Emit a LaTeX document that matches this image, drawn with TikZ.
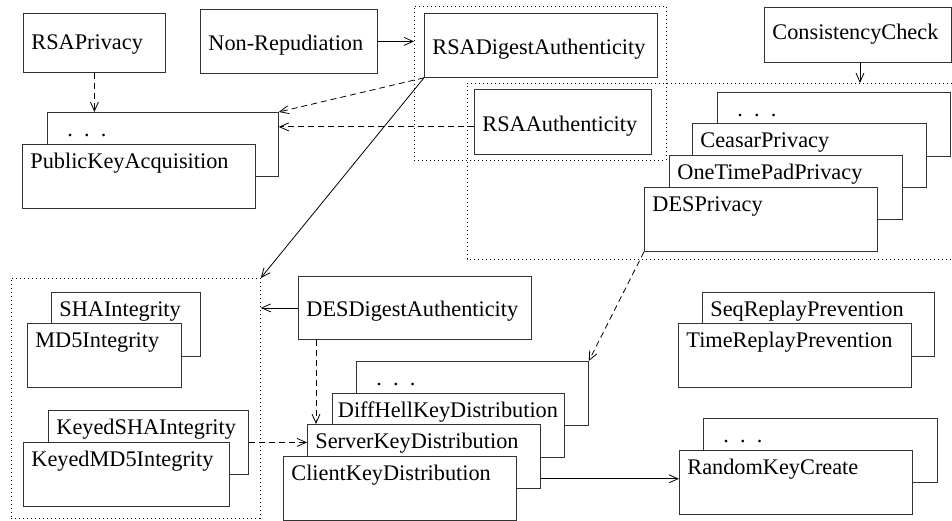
\documentclass[tikz,border=0pt]{standalone}
\usepackage{fontspec}
\setmainfont{Liberation Serif}
\usetikzlibrary{arrows.meta}
\hyphenpenalty=10000
\exhyphenpenalty=10000

\begin{document}
\begin{tikzpicture}
  [x=1pt,y=-1pt,line width=0.8pt,
   every node/.style={draw=black!80,fill=white,anchor=north west,inner xsep=8pt,
     inner ysep=0pt,align=left,text depth=23pt,font=\fontsize{22.3}{26}\selectfont},
   stk/.style={text height=24pt,text depth=40pt},
   grp/.style={fill=none,draw=black,dash pattern=on 1pt off 3pt},
   arr/.style={-{Straight Barb[length=9pt,width=8pt]}},
   dsh/.style={arr,dash pattern=on 6pt off 4pt}]

  \useasboundingbox (0,0) rectangle (952,521);

  % dotted groups
  \node[grp,minimum width=252pt,minimum height=154pt] (rsagrp) at (414,6) {};
  \node[grp,minimum width=249pt,minimum height=240pt] (intgrp) at (11,278) {};
  \draw[grp] (952,83) -| (467,259) -- (952,259);
  \coordinate (privtop) at (860,83);

  % single boxes
  \node[text width=126pt,text height=36pt] (rsapriv) at (23,13) {RSAPrivacy};
  \node[text width=161pt,text height=41pt] (nonrep) at (200,9) {Non-Repudiation};
  \node[text width=217pt,text height=41pt] (rsad) at (424,13) {RSADigestAuthenticity};
  \node[text width=171pt,text height=32pt] (cons) at (764,7) {ConsistencyCheck};
  \node[text width=161pt,text height=42pt] (rsaa) at (474,89) {RSAAuthenticity};
  \node[text width=217pt,text height=40pt] (desd) at (298,276) {DESDigestAuthenticity};

  % stacked boxes
  \node[stk,text width=215pt] (pkdots) at (47,112) {\hspace*{12pt}. . .};
  \node[stk,text width=217pt] (pka) at (22,144) {PublicKeyAcquisition};

  \node[stk,text width=217pt] (privdots) at (717,92) {\hspace*{12pt}. . .};
  \node[stk,text width=218pt] (ceasar) at (692,123) {CeasarPrivacy};
  \node[stk,text width=217pt] (otp) at (669,155) {OneTimePadPrivacy};
  \node[stk,text width=217pt] (des) at (644,187) {DESPrivacy};

  \node[stk,text width=133pt] (sha) at (51,292) {SHAIntegrity};
  \node[stk,text width=138pt] (md5) at (27,323) {MD5Integrity};
  \node[stk,text width=184pt] (ksha) at (48,410) {KeyedSHAIntegrity};
  \node[stk,text width=190pt] (kmd5) at (23,442) {KeyedMD5Integrity};

  \node[stk,text width=216pt] (kddots) at (356,361) {\hspace*{12pt}. . .};
  \node[stk,inner xsep=5.5pt,text width=221pt] (dh) at (332,393) {DiffHellKeyDistribution};
  \node[stk,text width=217pt] (server) at (307,424) {ServerKeyDistribution};
  \node[stk,text width=217pt] (client) at (283,456) {ClientKeyDistribution};

  \node[stk,text width=216pt] (seq) at (702,292) {SeqReplayPrevention};
  \node[stk,text width=217pt] (time) at (678,323) {TimeReplayPrevention};
  \node[stk,text width=218pt] (rkdots) at (703,418) {\hspace*{12pt}. . .};
  \node[stk,text width=217pt] (rkc) at (679,450) {RandomKeyCreate};

  \path[draw]
     (nonrep.east) edge[arr] (nonrep.east -| rsagrp.west)
     (privtop |- cons.south) edge[arr] (privtop)
     (rsapriv.south) edge[dsh] (rsapriv.south |- pkdots.north)
     (rsad.south west) edge[dsh] (pkdots.north east)
     ([yshift=-5pt]rsaa.west) edge[dsh] ([yshift=-5pt]rsaa.west -| pkdots.east)
     (rsad.south west) edge[arr] (intgrp.north east)
     (desd.west) edge[arr] (desd.west -| intgrp.east)
     ([xshift=9pt]server.north west |- desd.south) edge[dsh] ([xshift=9pt]server.north west)
     (ksha.east) edge[dsh] (ksha.east -| server.west)
     (des.south west) edge[dsh] (kddots.north east)
     ([yshift=10pt]server.south east) edge[arr] ([yshift=10pt]server.south east -| rkc.west);

\end{tikzpicture}
\end{document}
